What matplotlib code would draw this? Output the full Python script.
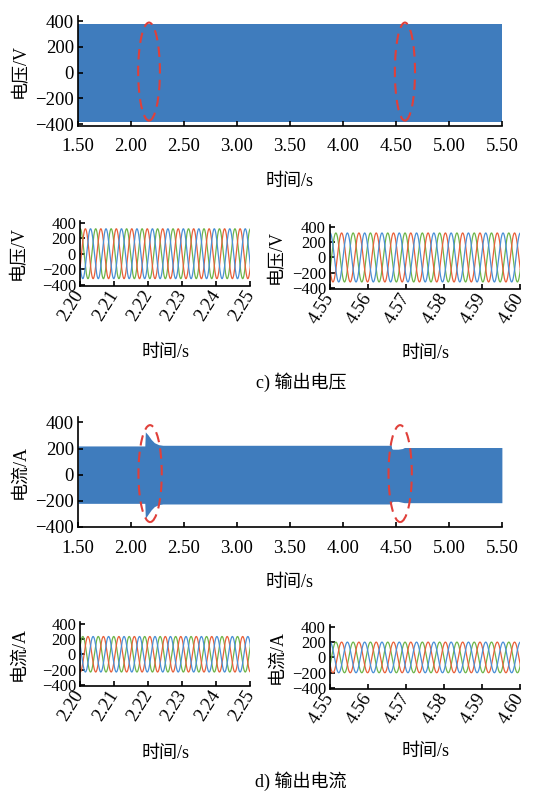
import numpy as np
import matplotlib.pyplot as plt
from matplotlib.patches import Ellipse

plt.rcParams['font.family'] = ['Liberation Serif', 'Noto Sans CJK SC']
plt.rcParams['axes.unicode_minus'] = True

# ---- 数据 ----
# 全程波形的包络 (1.5~5.5 s)
v_env_t = [1.50, 5.50]
v_env_hi = [378, 378]
v_env_lo = [-380, -380]

i_env_t = [1.50, 2.13, 2.135, 2.16, 2.19, 2.22, 2.26, 2.30,
           4.44, 4.45, 4.46, 4.47, 4.52, 4.56, 4.58, 5.50]
i_env_hi = [220, 220, 328, 305, 270, 245, 230, 225,
            225, 250, 200, 195, 195, 200, 208, 208]
i_env_lo = [-220, -220, -335, -305, -270, -245, -230, -225,
            -225, -225, -210, -205, -205, -212, -215, -215]

# 局部放大窗口: 起止时间, 幅值, 频率(Hz), 绿相初相角(度)
zoom_windows = [(2.20, 2.25), (4.55, 4.60)]
v_amp = [320, 320]
i_amp = [232, 200]
freq_hz = 220
v_phase0 = [0, 240]
i_phase0 = [300, 240]
phase_shift = [0, -120, -240]          # 绿, 红, 蓝

# 红色虚线椭圆 (中心t, 中心y, 宽, 高)
v_marks = [(2.17, 8, 0.205, 760), (4.585, 8, 0.19, 760)]
i_marks = [(2.18, 8, 0.22, 743), (4.54, 8, 0.22, 743)]

big_ticks = [1.5, 2.0, 2.5, 3.0, 3.5, 4.0, 4.5, 5.0, 5.5]
y_ticks = [-400, -200, 0, 200, 400]

band_color = '#3f7cbd'
phase_colors = ['#6db54a', '#e8603a', '#4a8fd6']
mark_color = '#e0403a'

fig = plt.figure(figsize=(5.42, 7.92), dpi=100)


def style_axes(ax, pad_x, ysize):
    for s in ['top', 'right']:
        ax.spines[s].set_visible(False)
    for s in ['left', 'bottom']:
        ax.spines[s].set_linewidth(1.2)
    ax.tick_params(direction='in', length=3.5, width=1.2, labelsize=13.5)
    ax.tick_params(axis='x', pad=pad_x)
    ax.tick_params(axis='y', pad=3, labelsize=ysize)
    ax.set_yticks(y_ticks)
    ax.set_yticklabels([str(v) if v >= 0 else '\u2212' + str(-v) for v in y_ticks])


def big_panel(rect, t, hi, lo, marks, ylabel, ylim, xlab_y):
    ax = fig.add_axes(rect)
    ax.fill_between(t, lo, hi, color=band_color, lw=0)
    for cx, cy, w, h in marks:
        ax.add_patch(Ellipse((cx, cy), w, h, fill=False, ec=mark_color,
                             lw=1.5, ls=(0, (5, 3))))
    ax.set_xlim(1.5, 5.5)
    ax.set_ylim(*ylim)
    style_axes(ax, 9, 13.5)
    ax.set_xticks(big_ticks)
    ax.set_xticklabels(['%.2f' % v for v in big_ticks])
    ax.set_xlabel('时间/s', fontsize=13)
    ax.xaxis.set_label_coords(0.5, xlab_y)
    ax.xaxis.label.set_va('center')
    ax.set_ylabel(ylabel, fontsize=13)
    ax.yaxis.set_label_coords(-0.137, 0.5)
    ax.yaxis.label.set_va('center')
    return ax


def small_panel(rect, win, amp, ph0, ylabel, ylab_x, xlab_y):
    ax = fig.add_axes(rect)
    t = np.linspace(win[0], win[1], 3000)
    for k in range(3):
        ang = 2 * np.pi * freq_hz * (t - win[0]) + np.deg2rad(ph0 + phase_shift[k])
        ax.plot(t, amp * np.cos(ang), color=phase_colors[k], lw=0.9)
    ax.set_xlim(*win)
    ax.set_ylim(-413, 425)
    style_axes(ax, 4, 12)
    ticks = np.round(np.linspace(win[0], win[1], 6), 2)
    ax.set_xticks(ticks)
    ax.set_xticklabels(['%.2f' % v for v in ticks], rotation=58,
                       ha='right', va='center', rotation_mode='anchor')
    ax.set_xlabel('时间/s', fontsize=13)
    ax.xaxis.set_label_coords(0.5, xlab_y)
    ax.xaxis.label.set_va('center')
    ax.set_ylabel(ylabel, fontsize=13)
    ax.yaxis.set_label_coords(ylab_x, 0.5)
    ax.yaxis.label.set_va('center')
    return ax


# c) 输出电压
big_panel([0.144, 0.841, 0.782, 0.139], v_env_t, v_env_hi, v_env_lo, v_marks,
          '电压/V', (-413, 440), -0.506)
small_panel([0.148, 0.639, 0.314, 0.0825], zoom_windows[0], v_amp[0], v_phase0[0],
            '电压/V', -0.36, -1.026)
small_panel([0.609, 0.635, 0.351, 0.081], zoom_windows[1], v_amp[1], v_phase0[1],
            '电压/V', -0.28, -1.0)
fig.text(0.555, 0.517, 'c) 输出电压', ha='center', va='center', fontsize=13)

# d) 输出电流
big_panel([0.144, 0.334, 0.782, 0.140], i_env_t, i_env_hi, i_env_lo, i_marks,
          '电流/A', (-405, 445), -0.492)
small_panel([0.148, 0.134, 0.314, 0.081], zoom_windows[0], i_amp[0], i_phase0[0],
            '电流/A', -0.36, -1.047)
small_panel([0.609, 0.130, 0.351, 0.081], zoom_windows[1], i_amp[1], i_phase0[1],
            '电流/A', -0.28, -0.97)
fig.text(0.555, 0.014, 'd) 输出电流', ha='center', va='center', fontsize=13)

fig.savefig('out.png', dpi=100)
